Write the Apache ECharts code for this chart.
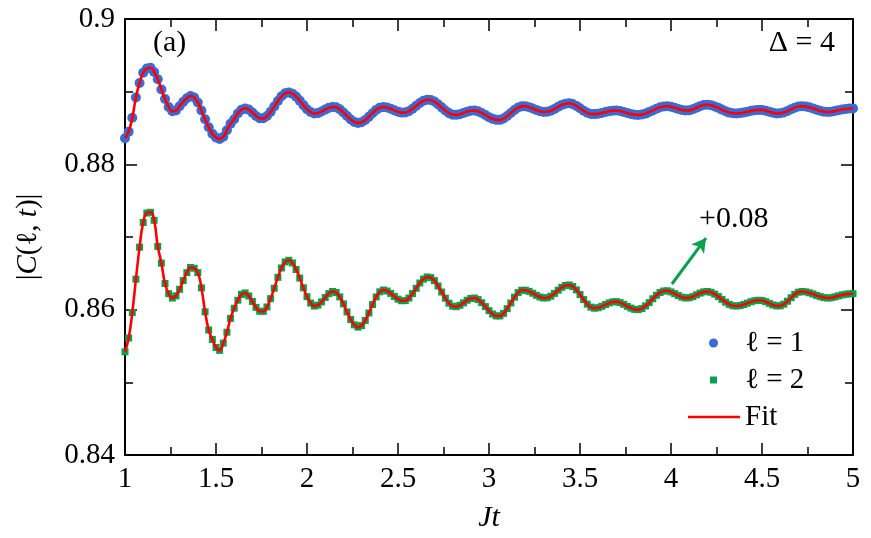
<!DOCTYPE html>
<html>
<head>
<meta charset="utf-8">
<title>C(l,t) fit</title>
<script src="https://cdn.jsdelivr.net/npm/echarts@6/dist/echarts.min.js"></script>
<style>
    html, body {
        margin: 0;
        padding: 0;
        background: #fff;
    }
    #chart {
        width: 871px;
        height: 538px;
    }
</style>
</head>
<body>
<div id="chart"></div>
<script>
// sampling times Jt = 1.00, 1.02, ... 5.00
const jt = []
for (let i = 0; i <= 200; i++) jt.push(+(1 + i * 0.02).toFixed(2))

// |C(l=1,t)|
const cL1 = [
    0.8836, 0.8845, 0.8864, 0.8892, 0.8912, 0.8926, 0.8932, 0.8933, 0.8927, 0.8917,
    0.8903, 0.8890, 0.8879, 0.8873, 0.8874, 0.8880, 0.8886, 0.8891, 0.8894, 0.8892,
    0.8885, 0.8874, 0.8862, 0.8851, 0.8842, 0.8837, 0.8835, 0.8838, 0.8847, 0.8856,
    0.8862, 0.8870, 0.8875, 0.8877, 0.88753, 0.88712, 0.88666, 0.88635, 0.88633, 0.88664,
    0.88722, 0.88795, 0.88871, 0.88936, 0.88978, 0.8899, 0.88973, 0.88932, 0.88877, 0.88815,
    0.88759, 0.88719, 0.887, 0.88705, 0.88726, 0.88753, 0.88777, 0.8879, 0.88784, 0.88757,
    0.88714, 0.88664, 0.88617, 0.88584, 0.8857, 0.88579, 0.8861, 0.88654, 0.88704, 0.88749,
    0.8878, 0.8879, 0.88783, 0.88765, 0.88743, 0.88723, 0.88712, 0.88713, 0.88732, 0.88766,
    0.88805, 0.88845, 0.88874, 0.88889, 0.88885, 0.88864, 0.88827, 0.88784, 0.8874, 0.88705,
    0.88684, 0.88681, 0.8869, 0.88707, 0.88725, 0.88737, 0.8874, 0.88729, 0.88707, 0.88679,
    0.88649, 0.88626, 0.88612, 0.88612, 0.8863, 0.88665, 0.88706, 0.88748, 0.88781, 0.88798,
    0.88798, 0.88787, 0.88768, 0.88748, 0.8873, 0.88721, 0.88723, 0.88738, 0.88763, 0.88792,
    0.88818, 0.88835, 0.8884, 0.88829, 0.88804, 0.88771, 0.88737, 0.88709, 0.88692, 0.88691,
    0.88697, 0.88708, 0.8872, 0.88732, 0.88739, 0.8874, 0.88733, 0.88721, 0.88707, 0.88693,
    0.88684, 0.8868, 0.88685, 0.88698, 0.8872, 0.88742, 0.88766, 0.88785, 0.88797, 0.888,
    0.88793, 0.88779, 0.88762, 0.88748, 0.8874, 0.88743, 0.88757, 0.88779, 0.88801, 0.88816,
    0.8882, 0.88813, 0.88797, 0.88777, 0.88753, 0.8873, 0.88712, 0.88702, 0.887, 0.88705,
    0.88714, 0.88725, 0.88736, 0.88745, 0.88749, 0.88749, 0.88739, 0.88725, 0.8871, 0.88701,
    0.88702, 0.88713, 0.88733, 0.88757, 0.8878, 0.88795, 0.888, 0.88796, 0.88784, 0.88769,
    0.88752, 0.88737, 0.88725, 0.8872, 0.88723, 0.88733, 0.88745, 0.88755, 0.88763, 0.88768,
    0.8877
]

// |C(l=2,t)| + 0.08
const cL2 = [
    0.8542, 0.8561, 0.8596, 0.8642, 0.8686, 0.8720, 0.8733, 0.8734, 0.8723, 0.8687,
    0.8664, 0.8636, 0.8622, 0.8616, 0.8619, 0.8628, 0.8640, 0.8651, 0.8658, 0.8657,
    0.8651, 0.8630, 0.8597, 0.8572, 0.8559, 0.8548, 0.8544, 0.8554, 0.8569, 0.8588,
    0.8602, 0.8613, 0.8621, 0.8623, 0.86189, 0.86113, 0.86032, 0.85978, 0.85977, 0.86037,
    0.86151, 0.86295, 0.86445, 0.86574, 0.86657, 0.8668, 0.86643, 0.86553, 0.86435, 0.86301,
    0.86179, 0.86091, 0.8605, 0.86062, 0.86107, 0.86167, 0.86221, 0.8625, 0.86236, 0.86176,
    0.8608, 0.85969, 0.85865, 0.85791, 0.8576, 0.85781, 0.85852, 0.85954, 0.8607, 0.86175,
    0.86246, 0.8627, 0.86257, 0.86224, 0.86182, 0.86144, 0.86123, 0.86125, 0.8616, 0.86222,
    0.86294, 0.86367, 0.86421, 0.8645, 0.86441, 0.86399, 0.86326, 0.86243, 0.86158, 0.86089,
    0.86048, 0.86041, 0.8606, 0.86093, 0.8613, 0.86154, 0.8616, 0.86139, 0.86096, 0.86042,
    0.85986, 0.8594, 0.85914, 0.85914, 0.85949, 0.86014, 0.86092, 0.86172, 0.86235, 0.86267,
    0.86267, 0.86252, 0.86226, 0.86198, 0.86174, 0.86161, 0.86164, 0.86186, 0.86224, 0.86268,
    0.86308, 0.86333, 0.8634, 0.86319, 0.86272, 0.86208, 0.86139, 0.86076, 0.86035, 0.8602,
    0.86027, 0.86046, 0.8607, 0.86093, 0.86107, 0.8611, 0.86097, 0.86074, 0.86046, 0.86021,
    0.86004, 0.86, 0.86016, 0.86051, 0.86097, 0.8615, 0.86198, 0.86236, 0.86257, 0.8626,
    0.86244, 0.86221, 0.86194, 0.86172, 0.86161, 0.86164, 0.86179, 0.86204, 0.86228, 0.86245,
    0.8625, 0.86239, 0.86214, 0.8618, 0.86141, 0.86103, 0.86073, 0.86054, 0.8605, 0.86057,
    0.86071, 0.8609, 0.86109, 0.86123, 0.8613, 0.86126, 0.8611, 0.86087, 0.86065, 0.86052,
    0.86053, 0.86076, 0.86116, 0.86165, 0.8621, 0.8624, 0.8625, 0.86245, 0.86232, 0.86216,
    0.86196, 0.86179, 0.86166, 0.8616, 0.86164, 0.86176, 0.8619, 0.86203, 0.86212, 0.86218,
    0.8622
]

// shift arrow for l=2 (data coords: from, to)
const shiftArrow = [[4.005, 0.86353], [4.192, 0.86986]]
const shiftLabel = '+0.08'

const seriesNames = ['ℓ = 1', 'ℓ = 2', 'Fit']
const FONT = "'Liberation Serif', 'DejaVu Serif', serif"
const BLUE = '#3a6bd4'
const GREEN = '#0aa04c'
const RED = '#ff0000'

const pairs = (ys) => jt.map((x, i) => [x, ys[i]])

const axisCommon = {
    type: 'value',
    axisLine: { show: true, lineStyle: { color: '#000', width: 2 } },
    splitLine: { show: false },
    axisTick: { show: true, inside: true, length: 12, lineStyle: { color: '#000', width: 1.5 } },
    minorTick: { show: true, splitNumber: 2, length: 8, lineStyle: { color: '#000', width: 1.5 } }
}

// one legend block per entry, each with its own icon size
function legendRow(name, icon, w, h, left, top, textPad) {
    return {
        data: [{ name: name, icon: icon }],
        left: left,
        top: top,
        padding: 0,
        itemWidth: w,
        itemHeight: h,
        itemStyle: { opacity: 1 },
        textStyle: { fontFamily: FONT, fontSize: 29, lineHeight: 30, color: '#000', padding: [0, 0, 0, textPad] }
    }
}

const chart = echarts.init(document.getElementById('chart'), null, { renderer: 'canvas' })

const option = {
    animation: false,
    backgroundColor: '#fff',
    grid: { left: 125, right: 18, top: 19, bottom: 83 },
    xAxis: [
        {
            ...axisCommon,
            min: 1,
            max: 5,
            interval: 0.5,
            name: 'Jt',
            nameLocation: 'middle',
            nameGap: 48,
            nameTextStyle: { fontFamily: FONT, fontSize: 30, fontStyle: 'italic', color: '#000' },
            axisLabel: { margin: 10, fontFamily: FONT, fontSize: 29, color: '#000' }
        },
        {
            ...axisCommon,
            position: 'top',
            min: 1,
            max: 5,
            interval: 0.5,
            axisLabel: { show: false }
        }
    ],
    yAxis: [
        {
            ...axisCommon,
            min: 0.84,
            max: 0.9,
            interval: 0.02,
            name: '|{i|C}(ℓ, {i|t})|',
            nameLocation: 'middle',
            nameRotate: 90,
            nameGap: 82,
            nameTextStyle: {
                fontFamily: FONT, fontSize: 29, color: '#000',
                rich: { i: { fontFamily: FONT, fontSize: 29, fontStyle: 'italic', color: '#000' } }
            },
            axisLabel: { margin: 10, fontFamily: FONT, fontSize: 29, color: '#000' }
        },
        {
            ...axisCommon,
            position: 'right',
            min: 0.84,
            max: 0.9,
            interval: 0.02,
            axisLabel: { show: false }
        }
    ],
    legend: [
        legendRow(seriesNames[0], 'circle', 9, 9, 709, 328, 22),
        legendRow(seriesNames[1], 'rect', 7, 7, 710, 365, 23),
        legendRow(seriesNames[2], 'rect', 52, 2.5, 688, 402, 0)
    ],
    graphic: [
        {
            type: 'text', left: 153, top: 28,
            style: { text: '(a)', font: '30px ' + FONT, fill: '#000' }
        },
        {
            type: 'text', right: 36, top: 28,
            style: { text: 'Δ = 4', font: '30px ' + FONT, fill: '#000' }
        },
        {
            type: 'text', left: 699, top: 204,
            style: { text: shiftLabel, font: '30px ' + FONT, fill: '#000' }
        }
    ],
    series: [
        {
            name: seriesNames[0],
            type: 'scatter',
            data: pairs(cL1),
            symbol: 'circle',
            symbolSize: 10,
            itemStyle: { color: BLUE, opacity: 1 }
        },
        {
            name: seriesNames[1],
            type: 'scatter',
            data: pairs(cL2),
            symbol: 'rect',
            symbolSize: 7,
            itemStyle: { color: GREEN, opacity: 1 },
            markLine: {
                silent: true,
                symbol: ['none', 'arrow'],
                symbolSize: [12, 14],
                label: { show: false },
                lineStyle: { color: GREEN, width: 3, type: 'solid' },
                data: [[{ coord: shiftArrow[0] }, { coord: shiftArrow[1] }]]
            }
        },
        {
            name: seriesNames[2],
            type: 'line',
            data: pairs(cL1),
            smooth: true,
            symbol: 'none',
            lineStyle: { color: RED, width: 2.6 },
            itemStyle: { color: RED }
        },
        {
            name: seriesNames[2],
            type: 'line',
            data: pairs(cL2),
            smooth: true,
            symbol: 'none',
            lineStyle: { color: RED, width: 2.6 },
            itemStyle: { color: RED }
        }
    ]
}

chart.setOption(option)
</script>
</body>
</html>
